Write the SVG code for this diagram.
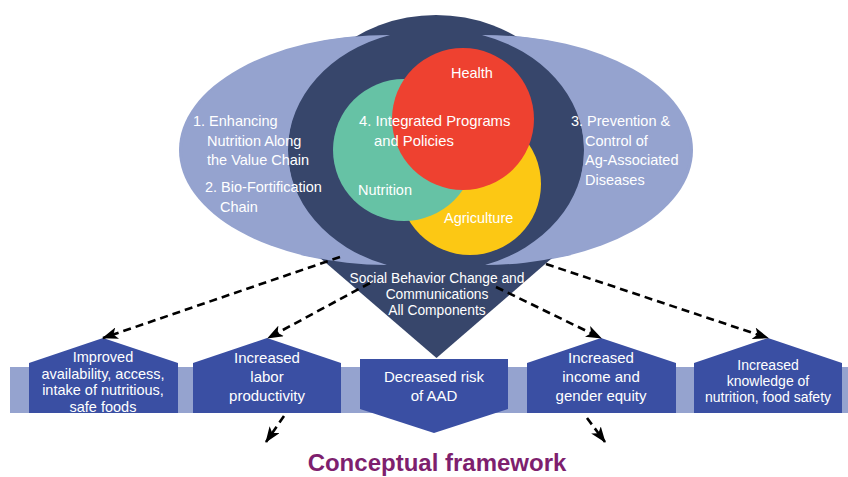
<svg xmlns="http://www.w3.org/2000/svg" width="848" height="477" viewBox="0 0 848 477">
<defs>
<style>
.t{font-family:"Liberation Sans",Arial,sans-serif;fill:#ffffff;font-size:14.5px}
.c{text-anchor:middle}
.b{font-size:15px}
.light{fill:#95a3cf}
.dark{fill:#37466b}
.box{fill:#3a4fa3}
.arr{stroke:#000;stroke-width:2.6;stroke-dasharray:8,5;fill:none;marker-end:url(#ah)}
</style>
<marker id="ah" viewBox="0 0 16 12" markerWidth="16" markerHeight="12" refX="15" refY="6" orient="auto" markerUnits="userSpaceOnUse">
<path d="M0,0 L16,6 L0,12 L4,6 z" fill="#000"/>
</marker>
</defs>
<rect width="848" height="477" fill="#ffffff"/>

<g id="band"><rect x="10" y="367" width="838" height="46" class="light"/></g>

<g id="sbcc">
<ellipse cx="385" cy="150" rx="206" ry="115" class="light"/>
<ellipse cx="487" cy="150" rx="206" ry="115" class="light"/>
<ellipse cx="436" cy="150" rx="148" ry="135" class="dark"/>
<polygon points="276,220 596,220 436.5,358" class="dark"/>
</g>

<g id="crescent-left">
<path d="M390,35 A206,115 0 1,0 387,265 A146,121 0 0,1 390,35 Z" class="light"/>
<text class="t" x="193" y="126">1. Enhancing<tspan x="207" dy="19.5">Nutrition Along</tspan><tspan x="207" dy="19.5">the Value Chain</tspan><tspan x="205" dy="27">2. Bio-Fortification</tspan><tspan x="220" dy="20">Chain</tspan></text>
</g>

<g id="crescent-right">
<path d="M390,35 A206,115 0 1,0 387,265 A146,121 0 0,1 390,35 Z" class="light" transform="translate(872,0) scale(-1,1)"/>
<text class="t" x="571" y="126">3. Prevention &amp;<tspan x="585" dy="19.5">Control of</tspan><tspan x="585" dy="19.5">Ag-Associated</tspan><tspan x="585" dy="19.5">Diseases</tspan></text>
</g>

<g id="agriculture"><circle cx="470" cy="184" r="71" fill="#fcc814"/>
<text class="t" x="444" y="223">Agriculture</text></g>
<g id="nutrition"><circle cx="404" cy="150" r="71" fill="#66c2a5"/>
<text class="t" x="358" y="195">Nutrition</text></g>
<g id="health"><circle cx="463" cy="119" r="71" fill="#ee4130"/>
<text class="t" x="451" y="78">Health</text></g>
<g id="integrated">
<text class="t" x="359" y="126" style="font-size:14.8px">4. Integrated Programs<tspan x="374" dy="19.5">and Policies</tspan></text>
</g>

<g id="sbcc-label">
<text class="t c" x="437" y="283" style="font-size:13.8px">Social Behavior Change and<tspan x="437" dy="16">Communications</tspan><tspan x="437" dy="16">All Components</tspan></text>
</g>

<g id="out1"><polygon points="29,413 29,363 103,338 178,363 178,413" class="box"/>
<text class="t c" x="103" y="362">Improved<tspan x="103" dy="16.5">availability, access,</tspan><tspan x="103" dy="16.5">intake of nutritious,</tspan><tspan x="103" dy="16.5">safe foods</tspan></text></g>

<g id="out2"><polygon points="193,413 193,363 267,338 341,363 341,413" class="box"/>
<text class="t c b" x="267" y="363">Increased<tspan x="267" dy="19">labor</tspan><tspan x="267" dy="19">productivity</tspan></text></g>

<g id="out3"><polygon points="360,359 508,359 508,409 434,433 360,409" class="box"/>
<text class="t c b" x="434" y="382">Decreased risk<tspan x="434" dy="19">of AAD</tspan></text></g>

<g id="out4"><polygon points="527,413 527,363 601,338 676,363 676,413" class="box"/>
<text class="t c b" x="601" y="363">Increased<tspan x="601" dy="19">income and</tspan><tspan x="601" dy="19">gender equity</tspan></text></g>

<g id="out5"><polygon points="694,413 694,363 768,338 842,363 842,413" class="box"/>
<text class="t c" x="768" y="370" style="font-size:14px">Increased<tspan x="768" dy="16">knowledge of</tspan><tspan x="768" dy="16">nutrition, food safety</tspan></text></g>

<g id="connectors">
<line class="arr" x1="340" y1="257" x2="103" y2="338"/>
<line class="arr" x1="370" y1="283" x2="268" y2="338"/>
<line class="arr" x1="496" y1="287" x2="601" y2="338"/>
<line class="arr" x1="546" y1="264" x2="768" y2="338"/>
<line class="arr" x1="284" y1="416" x2="266" y2="442"/>
<line class="arr" x1="587" y1="418" x2="605" y2="442"/>
</g>

<g id="title"><text x="437" y="471" text-anchor="middle" style="font-family:'Liberation Sans',Arial,sans-serif;font-weight:bold;font-size:24px;fill:#7e1f6e">Conceptual framework</text></g>
</svg>
